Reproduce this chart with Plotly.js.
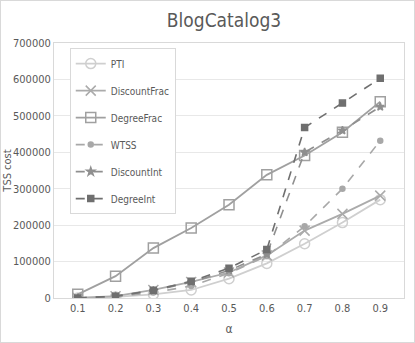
<!DOCTYPE html>
<html>
<head>
<meta charset="utf-8">
<script src="https://cdn.plot.ly/plotly-3.0.1.min.js"></script>
<style>
  body { margin: 0; background: #ffffff; }
  #chart { width: 413px; height: 341px; border: 1px solid #d9d9d9; }
</style>
</head>
<body>
<div id="chart"></div>
<script>
// alpha values on the x axis
var alpha = ['0.1', '0.2', '0.3', '0.4', '0.5', '0.6', '0.7', '0.8', '0.9'];

// TSS cost per method
var pti          = [0, 3000, 10000, 22000, 53000, 95000, 149000, 207000, 270000];
var discountFrac = [0, 5000, 22000, 44000, 70000, 117000, 185000, 231000, 281000];
var degreeFrac   = [10000, 60000, 137000, 192000, 256000, 338000, 391000, 455000, 539000];
var wtss         = [0, 3000, 15000, 33000, 68000, 115000, 197000, 300000, 432000];
var discountInt  = [0, 5000, 20000, 43000, 76000, 120000, 400000, 460000, 525000];
var degreeInt    = [0, 5000, 21000, 46000, 82000, 133000, 468000, 535000, 603000];

var fnt = 'DejaVu Sans Condensed, Roboto, sans-serif';

function mk(name, y, color, dash, symbol, size, group) {
    return {
        x: alpha,
        y: y,
        name: name,
        type: 'scatter',
        mode: 'lines+markers',
        legendgroup: group,
        line: { color: color, width: dash == 'solid' ? 1.8 : 1.6, dash: dash },
        marker: { symbol: symbol, size: size, color: color, line: { color: color, width: 1.5 } }
    };
}

var data = [
    mk('PTI', pti, '#cfcfcf', 'solid', 'circle-open', 10, 'a'),
    mk('DiscountFrac', discountFrac, '#ababab', 'solid', 'x-thin-open', 10, 'b'),
    mk('DegreeFrac', degreeFrac, '#a0a0a0', 'solid', 'square-open', 10, 'c'),
    mk('WTSS', wtss, '#a8a8a8', 'dash', 'circle', 5, 'd'),
    mk('DiscountInt', discountInt, '#8f8f8f', 'dash', 'star', 6, 'e'),
    mk('DegreeInt', degreeInt, '#6f6f6f', 'dash', 'square', 6, 'f')
];

var layout = {
    width: 413,
    height: 341,
    paper_bgcolor: '#ffffff',
    plot_bgcolor: '#ffffff',
    margin: { t: 42, r: 10, l: 53, b: 44 },
    font: { family: fnt, size: 11, color: '#595959' },
    title: { text: 'BlogCatalog3', font: { family: fnt, size: 19, color: '#595959' }, x: 0.54, y: 0.962, xanchor: 'center' },
    showlegend: true,
    legend: {
        x: 0.045, y: 0.98, xanchor: 'left', yanchor: 'top',
        bgcolor: '#ffffff', bordercolor: '#d9d9d9', borderwidth: 1,
        font: { family: fnt, size: 10, color: '#595959' },
        itemwidth: 30,
        tracegroupgap: 8,
        traceorder: 'grouped'
    },
    xaxis: {
        type: 'category',
        showgrid: false,
        showline: true,
        linecolor: '#d9d9d9',
        ticks: '',
        tickfont: { family: fnt, size: 11, color: '#595959' },
        title: { text: 'α', font: { family: fnt, size: 12, color: '#595959' }, standoff: 10 },
        mirror: true
    },
    yaxis: {
        range: [0, 700000],
        dtick: 100000,
        tickformat: 'd',
        showgrid: true,
        gridcolor: '#e8e8e8',
        zeroline: false,
        showline: true,
        linecolor: '#d9d9d9',
        mirror: true,
        ticks: '',
        tickfont: { family: fnt, size: 11, color: '#595959' },
        title: { text: 'TSS cost', font: { family: fnt, size: 11, color: '#595959' }, standoff: 6 }
    }
};

Plotly.newPlot('chart', data, layout, { displayModeBar: false, staticPlot: true });
</script>
</body>
</html>
